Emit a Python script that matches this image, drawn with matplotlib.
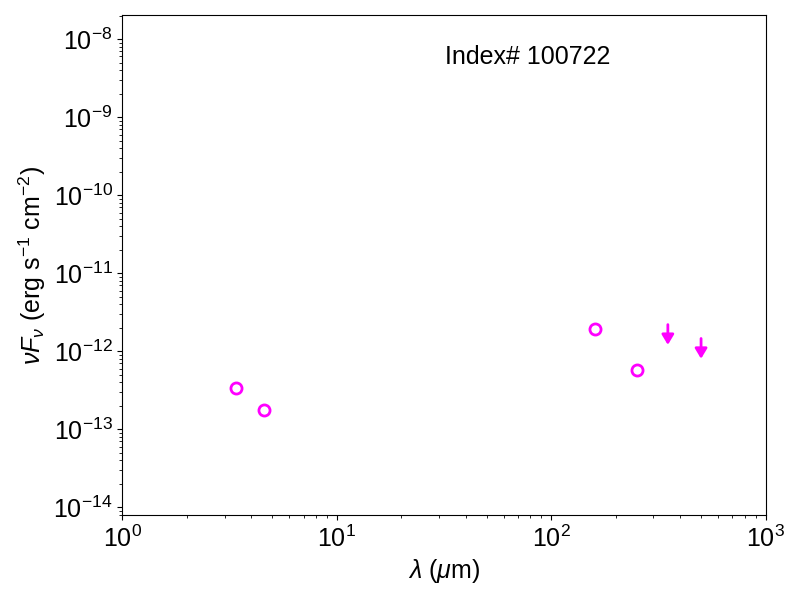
import matplotlib
matplotlib.use("Agg")
import matplotlib.pyplot as plt

plt.rcParams['font.family'] = ['Liberation Sans', 'DejaVu Sans']
plt.rcParams['mathtext.fontset'] = 'custom'
plt.rcParams['mathtext.rm'] = 'Liberation Sans'
plt.rcParams['mathtext.it'] = 'Liberation Sans:italic'
plt.rcParams['mathtext.bf'] = 'Liberation Sans:bold'

# Detections
wave = [3.4, 4.6, 160, 250]
flux = [3.35e-13, 1.75e-13, 1.95e-12, 5.8e-13]
# Upper limits
ul_wave = [350, 500]
ul_flux = [2.2e-12, 1.46e-12]
arrow_factor = 0.55

title = "Index# 100722"

fig, ax = plt.subplots(figsize=(8, 6), dpi=100)
fig.subplots_adjust(left=0.153, right=0.957, bottom=0.141, top=0.975)

ax.plot(wave, flux, linestyle='none', marker='o', markersize=8,
        markerfacecolor='none', markeredgecolor='magenta', markeredgewidth=2)

for xw, yf in zip(ul_wave, ul_flux):
    ax.annotate('', xy=(xw, yf * arrow_factor), xytext=(xw, yf),
                arrowprops=dict(arrowstyle='-|>,head_length=0.5,head_width=0.3',
                                color='magenta', lw=2, mutation_scale=12,
                                shrinkA=0, shrinkB=0))

ax.set_xscale('log')
ax.set_yscale('log')
ax.set_xlim(1, 1000)
ax.set_ylim(7.9e-15, 2.04e-8)
ax.tick_params(labelsize=18)
ax.set_xlabel(r'$\lambda$ ($\mu$m)', fontsize=18)
ax.set_ylabel(r'$\nu F_\nu$ (erg s$^{-1}$ cm$^{-2}$)', fontsize=18)
ax.text(0.63, 0.917, title, transform=ax.transAxes, fontsize=18,
        ha='center', va='center')

fig.savefig('out.png', dpi=100)
